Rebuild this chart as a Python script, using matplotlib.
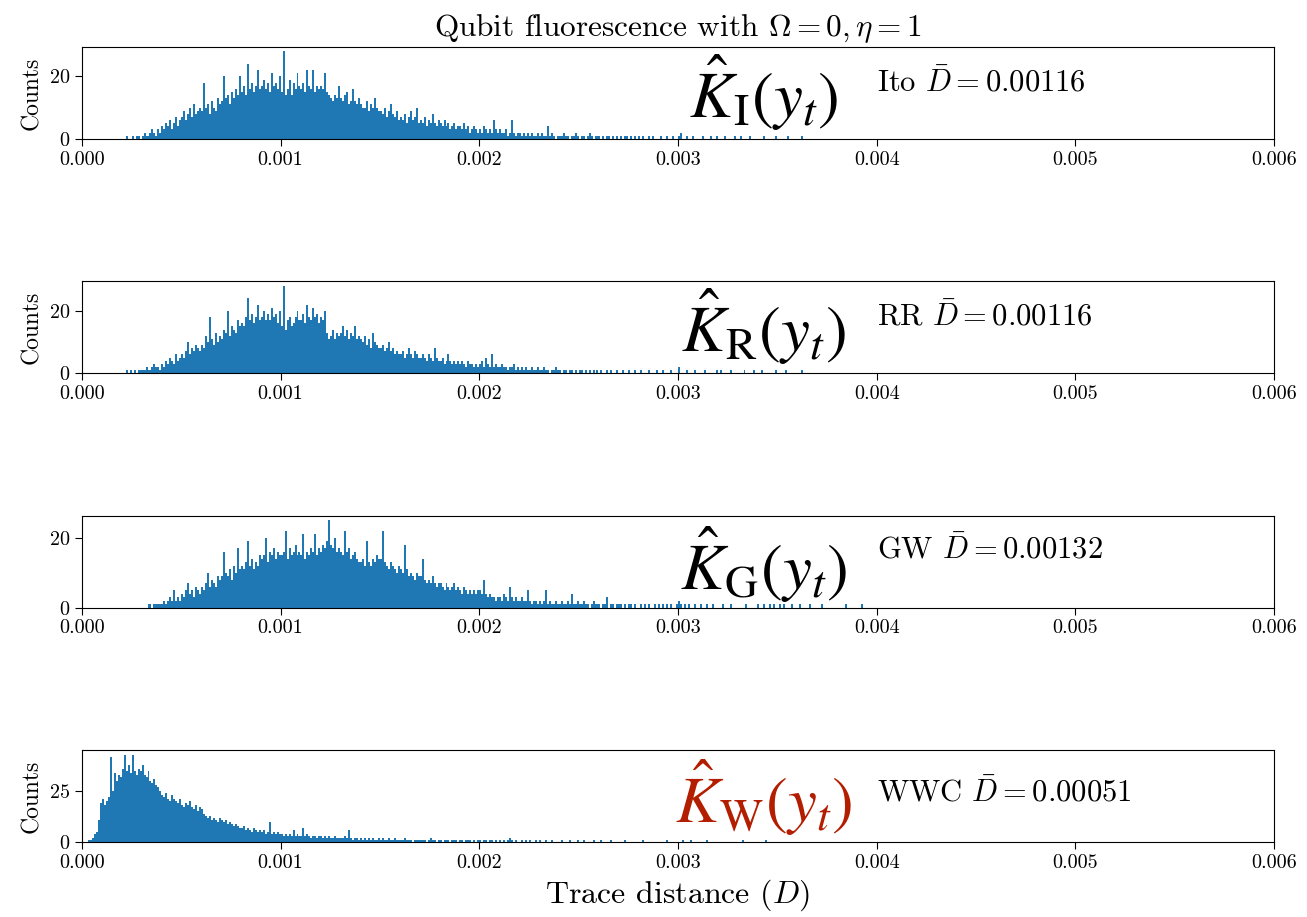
import matplotlib
matplotlib.use("Agg")
import matplotlib.pyplot as plt
from matplotlib.ticker import MaxNLocator, FormatStrFormatter
import numpy as np

plt.rcParams['font.family'] = 'serif'
plt.rcParams['font.serif'] = ['cmr10']
plt.rcParams['mathtext.fontset'] = 'cm'
plt.rcParams['axes.formatter.use_mathtext'] = True

# histogram counts, bins of width 1e-5 starting at *_start
bin_width = 1e-5

ito_start = 0.0002
ito_counts = [
    0, 0, 1, 0, 0, 1, 0, 1, 1, 0,
    1, 2, 1, 1, 2, 3, 2, 1, 3, 2,
    4, 3, 5, 4, 6, 3, 5, 7, 4, 6,
    7, 9, 6, 8, 10, 7, 11, 8, 9, 10,
    9, 18, 10, 11, 8, 12, 10, 9, 13, 11,
    12, 20, 13, 14, 11, 15, 13, 16, 14, 20,
    15, 17, 14, 24, 16, 18, 15, 17, 22, 16,
    17, 19, 16, 18, 15, 21, 17, 18, 16, 20,
    15, 28, 14, 16, 19, 14, 18, 16, 21, 17,
    16, 18, 15, 22, 17, 16, 22, 15, 17, 16,
    17, 16, 21, 15, 14, 13, 12, 14, 13, 17,
    13, 12, 14, 15, 11, 12, 16, 12, 11, 13,
    11, 10, 10, 12, 9, 11, 10, 13, 10, 9,
    9, 8, 10, 7, 9, 11, 8, 7, 9, 6,
    7, 6, 8, 5, 7, 9, 6, 7, 10, 5,
    6, 5, 7, 4, 6, 5, 8, 5, 4, 6,
    5, 4, 6, 4, 5, 3, 4, 5, 3, 4,
    4, 3, 5, 3, 4, 2, 3, 4, 3, 2,
    3, 2, 4, 3, 2, 3, 2, 6, 3, 2,
    3, 2, 2, 3, 1, 2, 6, 2, 1, 2,
    2, 1, 2, 1, 2, 1, 2, 1, 1, 2,
    1, 2, 1, 1, 4, 1, 2, 1, 0, 1,
    1, 1, 2, 1, 1, 0, 1, 1, 2, 1,
    0, 1, 1, 0, 1, 2, 1, 0, 1, 1,
    1, 0, 1, 0, 1, 1, 0, 1, 0, 1,
    0, 1, 0, 1, 1, 0, 1, 0, 1, 0,
    1, 0, 1, 0, 0, 1, 0, 1, 0, 0,
    0, 1, 0, 0, 1, 0, 0, 1, 0, 0,
    1, 2, 0, 0, 1, 0, 0, 1, 0, 0,
    0, 0, 1, 0, 0, 0, 1, 0, 0, 1,
    0, 0, 0, 1, 0, 0, 0, 0, 1, 0,
    0, 1, 0, 0, 0, 0, 1, 0, 0, 0,
    0, 0, 0, 1, 0, 0, 0, 0, 0, 1,
    0, 0, 0, 0, 0, 1, 0, 0, 0, 0,
    0, 0, 1, 0, 0, 0, 0, 0, 0, 0,
]

rr_start = 0.0002
rr_counts = [
    0, 0, 1, 0, 1, 0, 1, 0, 1, 1,
    1, 1, 2, 1, 1, 2, 3, 2, 2, 1,
    3, 2, 4, 3, 5, 4, 3, 6, 4, 5,
    6, 5, 7, 10, 6, 8, 7, 9, 8, 7,
    9, 8, 12, 10, 18, 11, 9, 13, 10, 12,
    11, 14, 13, 20, 12, 15, 14, 13, 17, 15,
    16, 15, 18, 24, 17, 19, 16, 18, 22, 17,
    18, 20, 17, 19, 17, 21, 18, 19, 16, 20,
    15, 28, 14, 17, 18, 15, 16, 18, 20, 17,
    17, 19, 16, 22, 18, 17, 21, 18, 19, 16,
    18, 17, 20, 13, 11, 12, 14, 11, 13, 12,
    13, 15, 12, 14, 11, 13, 12, 15, 11, 12,
    11, 10, 12, 9, 11, 8, 13, 10, 9, 8,
    8, 9, 7, 8, 10, 7, 8, 6, 7, 6,
    6, 7, 5, 6, 8, 6, 5, 7, 6, 5,
    5, 6, 5, 4, 6, 5, 4, 8, 5, 4,
    4, 5, 3, 4, 6, 4, 3, 4, 3, 4,
    3, 4, 3, 2, 4, 3, 3, 2, 3, 2,
    3, 4, 2, 5, 3, 2, 6, 2, 3, 2,
    2, 3, 2, 2, 1, 2, 2, 3, 1, 2,
    1, 2, 1, 2, 1, 1, 2, 1, 1, 2,
    1, 1, 2, 1, 1, 0, 1, 1, 2, 1,
    1, 0, 1, 1, 0, 1, 1, 0, 1, 0,
    1, 1, 0, 1, 0, 1, 0, 1, 0, 1,
    0, 1, 0, 0, 1, 0, 1, 0, 0, 1,
    0, 0, 1, 0, 0, 1, 0, 0, 1, 0,
    0, 1, 0, 0, 0, 1, 0, 0, 0, 1,
    0, 0, 1, 0, 0, 0, 1, 0, 0, 0,
    2, 0, 0, 0, 1, 0, 0, 0, 1, 0,
    0, 0, 0, 1, 0, 0, 0, 0, 0, 1,
    0, 1, 0, 0, 0, 0, 1, 0, 0, 0,
    0, 0, 0, 1, 0, 0, 0, 0, 1, 0,
    0, 0, 1, 0, 0, 0, 0, 0, 0, 1,
    0, 0, 0, 0, 1, 0, 0, 0, 0, 0,
    0, 0, 1, 0, 0, 0, 0, 0, 0, 0,
]

gw_start = 0.0003
gw_counts = [
    0, 0, 0, 1, 1, 0, 1, 1, 1, 1,
    1, 2, 1, 2, 3, 2, 5, 2, 3, 2,
    4, 3, 5, 7, 4, 5, 3, 6, 5, 4,
    6, 5, 7, 10, 6, 8, 7, 6, 9, 8,
    9, 16, 10, 9, 11, 8, 12, 10, 17, 11,
    12, 11, 13, 19, 12, 14, 11, 13, 12, 15,
    14, 15, 20, 13, 16, 15, 17, 14, 16, 15,
    15, 16, 22, 14, 17, 15, 16, 18, 15, 16,
    15, 21, 14, 16, 15, 17, 16, 21, 15, 17,
    16, 18, 17, 19, 25, 18, 17, 20, 16, 17,
    16, 15, 22, 16, 17, 14, 15, 16, 14, 13,
    13, 14, 12, 19, 13, 12, 14, 13, 15, 14,
    14, 22, 13, 12, 11, 13, 12, 11, 10, 12,
    11, 10, 18, 11, 9, 10, 9, 8, 10, 9,
    9, 14, 8, 7, 8, 7, 9, 7, 6, 7,
    7, 6, 5, 7, 6, 5, 6, 7, 5, 6,
    5, 4, 6, 5, 4, 5, 4, 5, 4, 5,
    5, 4, 8, 4, 3, 4, 3, 3, 2, 3,
    3, 2, 4, 3, 2, 6, 3, 2, 3, 2,
    2, 3, 2, 2, 5, 2, 1, 2, 2, 1,
    2, 1, 2, 5, 1, 2, 1, 1, 2, 1,
    1, 2, 1, 1, 2, 1, 4, 1, 1, 2,
    1, 1, 2, 1, 1, 0, 1, 2, 1, 1,
    1, 0, 1, 1, 3, 0, 1, 1, 0, 1,
    1, 1, 0, 1, 0, 1, 1, 0, 1, 0,
    0, 1, 0, 1, 0, 1, 0, 0, 1, 0,
    1, 0, 1, 0, 1, 0, 1, 0, 0, 1,
    2, 1, 0, 1, 0, 1, 0, 0, 1, 0,
    0, 1, 0, 0, 1, 0, 0, 1, 0, 0,
    0, 0, 1, 0, 0, 0, 1, 0, 0, 0,
    0, 0, 0, 0, 1, 0, 0, 0, 0, 0,
    1, 0, 0, 1, 0, 0, 1, 0, 1, 0,
    0, 1, 0, 1, 0, 0, 0, 1, 0, 0,
    0, 1, 0, 0, 0, 0, 1, 0, 0, 0,
    0, 0, 1, 0, 0, 0, 0, 0, 0, 0,
    0, 0, 0, 0, 1, 0, 0, 0, 0, 0,
    0, 0, 1, 0, 0, 0, 0, 0, 0, 0,
]

wwc_start = 0.0
wwc_counts = [
    0, 0, 0, 1, 1, 2, 4, 5, 11, 19,
    21, 18, 20, 22, 42, 25, 34, 30, 33, 32,
    36, 43, 35, 38, 34, 43, 35, 33, 36, 35,
    38, 33, 32, 35, 30, 29, 31, 28, 27, 25,
    23, 22, 24, 21, 20, 23, 21, 20, 19, 21,
    18, 17, 19, 18, 20, 17, 16, 18, 15, 17,
    16, 14, 13, 12, 13, 11, 12, 11, 10, 12,
    11, 10, 11, 9, 10, 9, 8, 9, 8, 7,
    7, 8, 6, 7, 6, 5, 7, 6, 5, 6,
    5, 6, 4, 5, 10, 4, 5, 4, 5, 4,
    4, 3, 4, 3, 4, 3, 6, 3, 4, 3,
    3, 7, 3, 4, 3, 2, 3, 3, 2, 3,
    3, 2, 3, 2, 3, 2, 2, 3, 2, 2,
    2, 2, 3, 2, 6, 2, 1, 2, 2, 1,
    2, 1, 2, 1, 2, 1, 2, 1, 1, 2,
    1, 2, 1, 1, 2, 1, 1, 2, 1, 1,
    1, 1, 2, 1, 1, 1, 0, 1, 1, 1,
    1, 1, 1, 0, 1, 2, 1, 1, 0, 1,
    1, 0, 1, 1, 1, 0, 1, 1, 1, 0,
    1, 1, 0, 1, 1, 1, 0, 1, 0, 1,
    1, 0, 1, 1, 0, 1, 1, 0, 1, 0,
    1, 0, 1, 0, 1, 2, 1, 0, 1, 0,
    0, 1, 0, 1, 0, 1, 0, 0, 1, 0,
    1, 0, 0, 1, 0, 0, 1, 0, 0, 0,
    0, 1, 0, 0, 0, 1, 0, 0, 0, 1,
    0, 0, 1, 0, 0, 0, 0, 1, 0, 0,
    0, 1, 0, 0, 0, 0, 1, 0, 0, 0,
    0, 0, 0, 1, 0, 0, 0, 0, 0, 0,
    0, 0, 1, 0, 0, 0, 0, 0, 0, 0,
    0, 0, 0, 0, 1, 0, 0, 0, 0, 0,
    0, 0, 1, 0, 0, 0, 1, 0, 0, 0,
    0, 0, 0, 0, 1, 0, 0, 0, 0, 0,
    0, 0, 0, 0, 0, 0, 0, 0, 0, 0,
    0, 0, 1, 0, 0, 0, 0, 0, 0, 0,
    0, 0, 0, 0, 1, 0, 0, 0, 0, 0,
]

labels = [r'$\hat{K}_{\mathrm{I}}(y_t)$', r'$\hat{K}_{\mathrm{R}}(y_t)$',
          r'$\hat{K}_{\mathrm{G}}(y_t)$', r'$\hat{K}_{\mathrm{W}}(y_t)$']
names = ['Ito', 'RR', 'GW', 'WWC']
mean_D = ['0.00116', '0.00116', '0.00132', '0.00051']
label_colors = ['black', 'black', 'black', '#b31d00']
show_ylabel = [True, True, False, True]

starts = [ito_start, rr_start, gw_start, wwc_start]
all_counts = [ito_counts, rr_counts, gw_counts, wwc_counts]
# vertical placement (axes fraction) of the big label and the mean text
k_y = [0.50, 0.50, 0.47, 0.48]
txt_y = [0.62, 0.62, 0.64, 0.54]

fig, axes = plt.subplots(4, 1, figsize=(13.07, 9.17), dpi=100)
fig.subplots_adjust(left=0.0627, right=0.9747, top=0.9487, bottom=0.0818, hspace=1.554)

for i, ax in enumerate(axes):
    counts = np.array(all_counts[i], dtype=float)
    edges = starts[i] + bin_width * np.arange(len(counts) + 1)
    centers = 0.5 * (edges[:-1] + edges[1:])
    ax.hist(centers, bins=edges, weights=counts, color='#1f77b4')

    ax.set_xlim(0, 0.006)
    ax.xaxis.set_major_formatter(FormatStrFormatter('%.3f'))
    ax.yaxis.set_major_locator(MaxNLocator(2, steps=[1, 2, 2.5, 5, 10]))
    ax.tick_params(labelsize=14.5, length=5)
    if show_ylabel[i]:
        ax.set_ylabel('Counts', fontsize=17)

    tr = ax.get_xaxis_transform()
    ax.text(0.00343, k_y[i], labels[i], transform=tr, fontsize=47,
            ha='center', va='center', color=label_colors[i], math_fontfamily='stix')
    ax.text(0.004, txt_y[i], names[i] + r' $\bar{D} = ' + mean_D[i] + '$', transform=tr,
            fontsize=22, ha='left', va='center')

axes[0].set_title(r'Qubit fluorescence with $\Omega = 0, \eta = 1$', fontsize=22.5, pad=8)
axes[-1].set_xlabel(r'Trace distance ($D$)', fontsize=23)

plt.savefig('out.png', dpi=100)
